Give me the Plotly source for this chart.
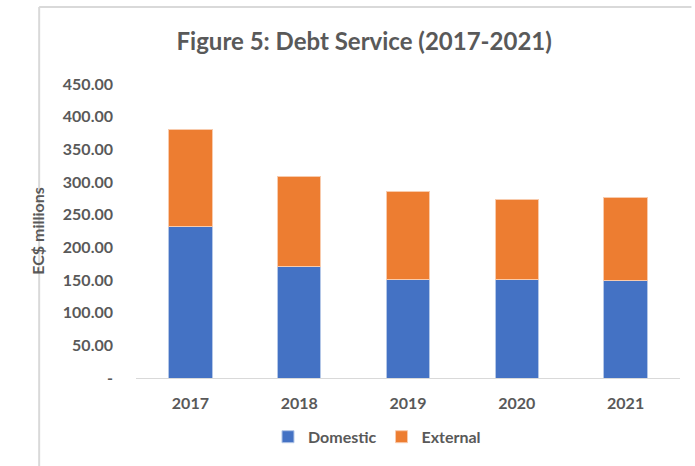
import plotly.graph_objects as go

years = ["2017", "2018", "2019", "2020", "2021"]
domestic = [231.6, 171.0, 151.0, 150.5, 148.5]
external = [149.4, 136.7, 134.2, 123.0, 128.5]

tick_vals = [0, 50, 100, 150, 200, 250, 300, 350, 400, 450]
tick_text = ["-", "50.00", "100.00", "150.00", "200.00", "250.00",
             "300.00", "350.00", "400.00", "450.00"]

grey = "#595959"
font_family = "Lato, 'Open Sans', sans-serif"

fig = go.Figure()
fig.add_trace(go.Bar(name="<b>Domestic</b>", x=years, y=domestic,
                     marker=dict(color="#4472C4", line=dict(color="#b4c7e7", width=1))))
fig.add_trace(go.Bar(name="<b>External</b>", x=years, y=external,
                     marker=dict(color="#ED7D31", line=dict(color="#f8cbad", width=1))))

fig.update_layout(
    barmode="stack",
    bargap=0.6,
    width=695, height=466,
    margin=dict(l=136, r=15, t=84, b=88),
    paper_bgcolor="white", plot_bgcolor="white",
    font=dict(family=font_family, color=grey, size=16),
    title=dict(text="<b>Figure 5: Debt Service (2017-2021)</b>",
               x=0.524, xanchor="center", y=0.91, yanchor="middle",
               font=dict(size=24, color=grey, family=font_family)),
    legend=dict(orientation="h", x=0.443, xanchor="center", y=-0.2, yanchor="middle",
                font=dict(size=16, color=grey), traceorder="normal",
                itemwidth=30),
    showlegend=True,
)
fig.update_xaxes(showline=True, linecolor="#d9d9d9", linewidth=1, ticks="",
                 tickfont=dict(size=16, color=grey), showgrid=False,
                 ticklabelstandoff=11,
                 tickprefix="<b>", ticksuffix="</b>")
fig.update_yaxes(range=[0, 450], tickvals=tick_vals, ticktext=["<b>%s</b>" % t for t in tick_text],
                 showgrid=False, zeroline=False, showline=False,
                 ticklabelstandoff=22,
                 tickfont=dict(size=16, color=grey),
                 title=dict(text="<b>EC$ millions</b>", font=dict(size=16, color=grey), standoff=14))

# Chart frame edges
fig.add_shape(type="line", xref="paper", yref="paper", x0=-0.178, x1=1.021, y0=1.262, y1=1.262,
              line=dict(color="#d9d9d9", width=2))
fig.add_shape(type="line", xref="paper", yref="paper", x0=-0.178, x1=-0.178, y0=1.262, y1=-0.3,
              line=dict(color="#d9d9d9", width=2))

fig.write_html("out.html")
